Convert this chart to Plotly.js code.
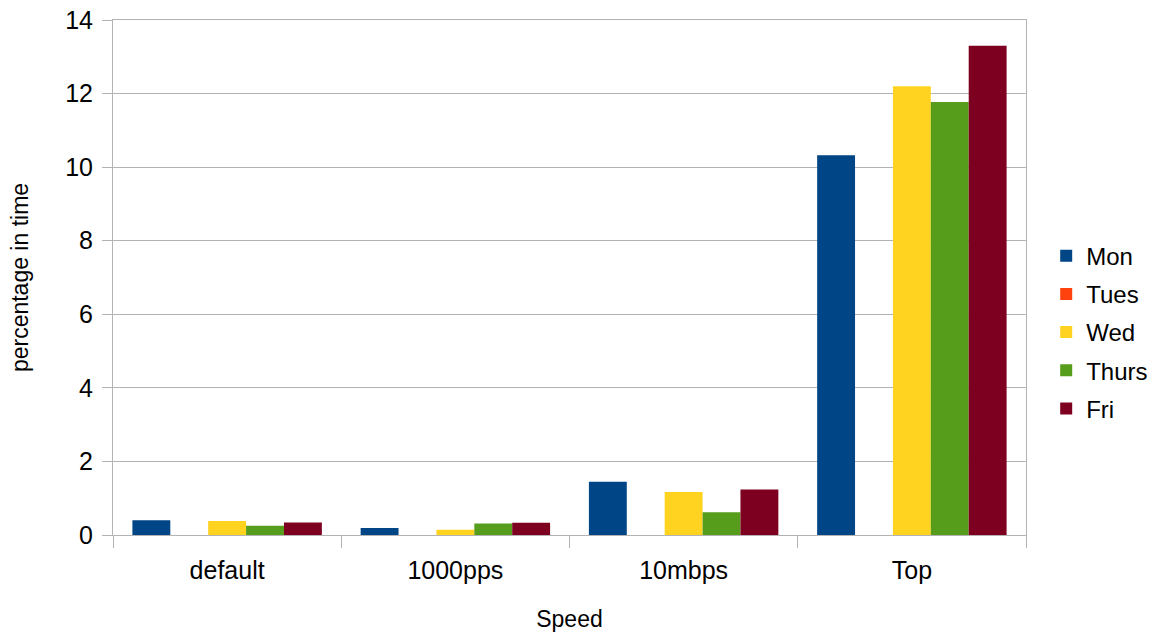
<!DOCTYPE html>
<html><head><meta charset="utf-8">
<script src="https://cdn.plot.ly/plotly-3.0.1.min.js"></script>
<style>body{margin:0;background:#fff}#chart{width:1164px;height:634px}</style>
</head><body><div id="chart"></div>
<script>
const categories = ["default", "1000pps", "10mbps", "Top"];
const seriesNames = ["Mon", "Tues", "Wed", "Thurs", "Fri"];
const mon = [0.40, 0.19, 1.45, 10.32];
const tues = [0, 0, 0, 0];
const wed = [0.38, 0.14, 1.17, 12.2];
const thurs = [0.25, 0.31, 0.62, 11.77];
const fri = [0.34, 0.33, 1.24, 13.3];
const colors = ["#004586", "#ff420e", "#ffd320", "#579d1c", "#7e0021"];
const values = [mon, tues, wed, thurs, fri];

const traces = seriesNames.map((n, i) => ({
  type: "bar", name: n, x: categories, y: values[i], legendgroup: n,
  marker: {color: colors[i]}, hoverinfo: "x+y+name"
}));

const fam = "Liberation Sans, Arial, sans-serif";
const layout = {
  width: 1164, height: 634,
  margin: {l: 113, r: 137, t: 20, b: 99},
  paper_bgcolor: "#fff", plot_bgcolor: "#fff",
  font: {family: fam, color: "#000"},
  barmode: "group", bargap: 0.17, bargroupgap: 0,
  xaxis: {
    title: {text: "Speed", font: {size: 23, family: fam}, standoff: 27},
    tickfont: {size: 25}, ticks: "outside", tickson: "boundaries", ticklen: 12,
    ticklabelstandoff: 13,
    tickcolor: "#b3b3b3", showline: true, linecolor: "#b3b3b3", mirror: true,
    showgrid: false
  },
  yaxis: {
    title: {text: "percentage in time", font: {size: 23, family: fam}, standoff: 30},
    range: [0, 14], dtick: 2, tickfont: {size: 25}, ticks: "outside", ticklen: 10,
    ticklabelstandoff: 4,
    tickcolor: "#b3b3b3", showline: true, linecolor: "#b3b3b3", mirror: true,
    gridcolor: "#b3b3b3", zeroline: false
  },
  legend: {
    x: 1.021, y: 0.394, xanchor: "left", yanchor: "middle",
    font: {size: 24}, tracegroupgap: 4, itemwidth: 30, traceorder: "grouped"
  },
  showlegend: true
};
Plotly.newPlot("chart", traces, layout, {displayModeBar: false});
</script></body></html>
